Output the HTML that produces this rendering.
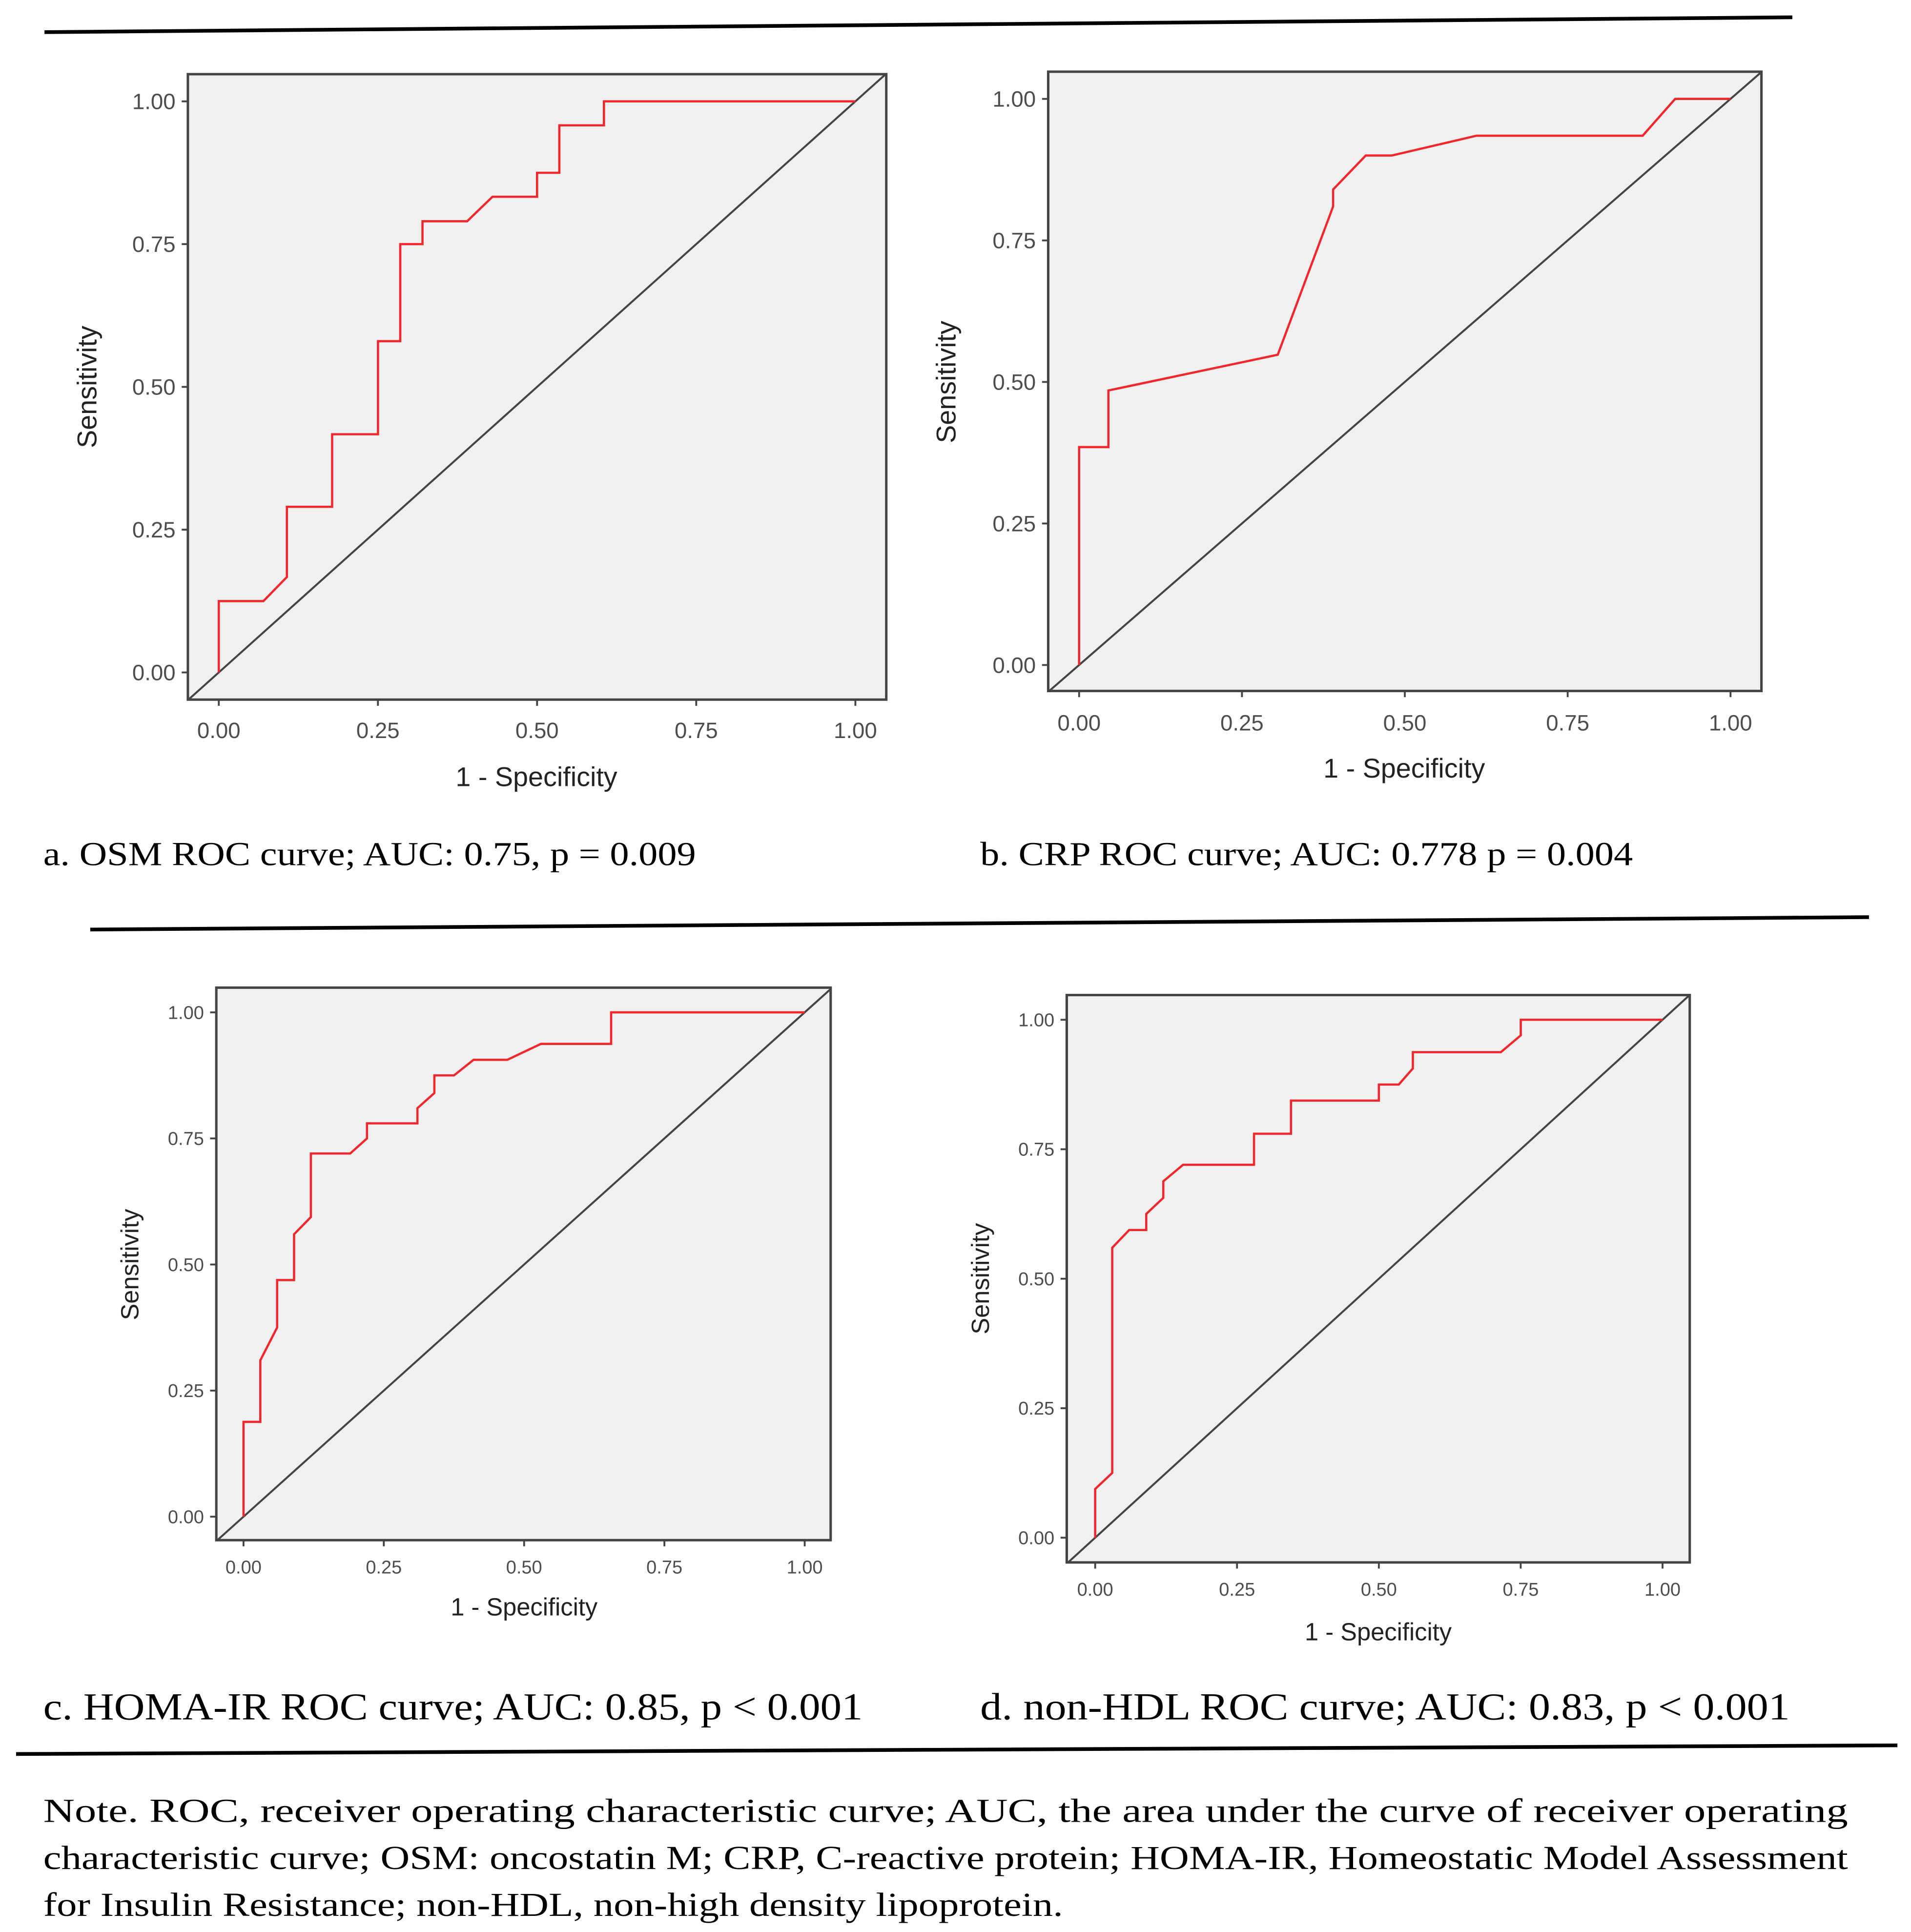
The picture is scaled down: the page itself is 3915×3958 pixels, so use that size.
<!DOCTYPE html>
<html><head><meta charset="utf-8"><style>
html,body{margin:0;padding:0;background:#fff;}
svg{display:block;}
.tk{font-family:"Liberation Sans",sans-serif;fill:#4d4d4d;}
.ti{font-family:"Liberation Sans",sans-serif;fill:#222;}
.cap{font-family:"Liberation Serif",serif;fill:#000;}
</style></head><body>
<svg id="fig" width="3915" height="3958" viewBox="0 0 1546 1563" preserveAspectRatio="none" xmlns="http://www.w3.org/2000/svg">
<line x1="36" y1="26" x2="1450" y2="14" stroke="#000" stroke-width="3"/>
<line x1="73" y1="752" x2="1512" y2="742" stroke="#000" stroke-width="3"/>
<line x1="13" y1="1419" x2="1535" y2="1412" stroke="#000" stroke-width="3"/>
<text class="cap" x="35" y="700" font-size="27" textLength="528" lengthAdjust="spacingAndGlyphs">a. OSM ROC curve; AUC: 0.75, p = 0.009</text>
<text class="cap" x="793" y="700" font-size="27" textLength="528" lengthAdjust="spacingAndGlyphs">b. CRP ROC curve; AUC: 0.778 p = 0.004</text>
<text class="cap" x="35" y="1391" font-size="31" textLength="663" lengthAdjust="spacingAndGlyphs">c. HOMA-IR ROC curve; AUC: 0.85, p &lt; 0.001</text>
<text class="cap" x="793" y="1391" font-size="31" textLength="655" lengthAdjust="spacingAndGlyphs">d. non-HDL ROC curve; AUC: 0.83, p &lt; 0.001</text>
<text class="cap" font-size="27">
<tspan x="35" y="1474" textLength="1460" lengthAdjust="spacingAndGlyphs">Note. ROC, receiver operating characteristic curve; AUC, the area under the curve of receiver operating</tspan>
<tspan x="35" y="1512" textLength="1460" lengthAdjust="spacingAndGlyphs">characteristic curve; OSM: oncostatin M; CRP, C-reactive protein; HOMA-IR, Homeostatic Model Assessment</tspan>
<tspan x="35" y="1550" textLength="825" lengthAdjust="spacingAndGlyphs">for Insulin Resistance; non-HDL, non-high density lipoprotein.</tspan>
</text>
</svg>
<script>
const tickLabels=["0.00","0.25","0.50","0.75","1.00"];
const tickValues=[0,0.25,0.5,0.75,1];
const fprA=[0,0,0.07,0.107,0.107,0.178,0.178,0.25,0.25,0.285,0.285,0.32,0.32,0.39,0.43,0.5,0.5,0.535,0.535,0.605,0.605,1];
const tprA=[0,0.125,0.125,0.167,0.29,0.29,0.417,0.417,0.58,0.58,0.75,0.75,0.79,0.79,0.833,0.833,0.875,0.875,0.958,0.958,1,1];
const fprB=[0,0,0.045,0.045,0.305,0.39,0.39,0.44,0.48,0.61,0.865,0.915,1];
const tprB=[0,0.385,0.385,0.485,0.548,0.81,0.84,0.9,0.9,0.935,0.935,1,1];
const fprC=[0,0,0.03,0.03,0.06,0.06,0.09,0.09,0.12,0.12,0.19,0.22,0.22,0.31,0.31,0.34,0.34,0.375,0.41,0.47,0.53,0.655,0.655,1];
const tprC=[0,0.188,0.188,0.31,0.375,0.469,0.469,0.56,0.594,0.72,0.72,0.75,0.78,0.78,0.81,0.84,0.875,0.875,0.906,0.906,0.9375,0.9375,1,1];
const fprD=[0,0,0.03,0.03,0.06,0.09,0.09,0.12,0.12,0.155,0.28,0.28,0.345,0.345,0.5,0.5,0.535,0.56,0.56,0.715,0.75,0.75,1];
const tprD=[0,0.094,0.125,0.56,0.594,0.594,0.625,0.656,0.688,0.72,0.72,0.78,0.78,0.844,0.844,0.875,0.875,0.906,0.9375,0.9375,0.97,1,1];

const NS="http://www.w3.org/2000/svg";
const svg=document.getElementById('fig');
function mk(tag,attrs,parent){const e=document.createElementNS(NS,tag);for(const k in attrs)e.setAttribute(k,attrs[k]);(parent||svg).appendChild(e);return e;}

const panels=[
 {id:'a',box:[152,60,717,566],x0:177,x1:692,y0:544,y1:82,fs:18,tly:597,tit:[434,636,22],sx:78,fpr:fprA,tpr:tprA},
 {id:'b',box:[848,58,1425,559],x0:873,x1:1400,y0:538,y1:80,fs:18,tly:591,tit:[1136,629,22],sx:773,fpr:fprB,tpr:tprB},
 {id:'c',box:[175,799,672,1246],x0:197,x1:651,y0:1227,y1:819,fs:15,tly:1273,tit:[424,1307,20],sx:112,fpr:fprC,tpr:tprC},
 {id:'d',box:[863,805,1367,1264],x0:886,x1:1345,y0:1244,y1:825,fs:15,tly:1291,tit:[1115,1327,20],sx:800,fpr:fprD,tpr:tprD}
];
panels.forEach(p=>{
 const g=mk('g',{});
 
 
 const xs=v=>p.x0+(p.x1-p.x0)*v, ys=v=>p.y0+(p.y1-p.y0)*v;
 const [L,T,R,B]=p.box;
 const bg=mk('rect',{x:L,y:T,width:R-L,height:B-T,fill:'#f0f0f0',stroke:'#444','stroke-width':2},g);
 
 
 const vL=(L-p.x0)/(p.x1-p.x0), vR=(R-p.x0)/(p.x1-p.x0);
 const vB=(B-p.y0)/(p.y1-p.y0), vT=(T-p.y0)/(p.y1-p.y0);
 const a=Math.max(vL,vB), b=Math.min(vR,vT);
 const d=mk('line',{x1:xs(a),y1:ys(a),x2:xs(b),y2:ys(b),stroke:'#444','stroke-width':1.6},g);
 
 
 const pts=p.fpr.map((f,i)=>xs(f).toFixed(1)+','+ys(p.tpr[i]).toFixed(1)).join(' ');
 const c=mk('polyline',{points:pts,fill:'none',stroke:'#f0282d','stroke-width':1.8},g);
 
 
 tickValues.forEach((v,i)=>{
  mk('line',{x1:xs(v),y1:B,x2:xs(v),y2:B+5,stroke:'#444','stroke-width':1.5},g);
  const tx=mk('text',{x:xs(v),y:p.tly,'font-size':p.fs,'text-anchor':'middle',class:'tk'},g);
  tx.textContent=tickLabels[i];
  
  
  mk('line',{x1:L-5,y1:ys(v),x2:L,y2:ys(v),stroke:'#444','stroke-width':1.5},g);
  const ty=mk('text',{x:L-10,y:ys(v)+p.fs*0.35,'font-size':p.fs,'text-anchor':'end',class:'tk'},g);
  ty.textContent=tickLabels[i];
  
  
 });
 const xt=mk('text',{x:p.tit[0],y:p.tit[1],'font-size':p.tit[2],'text-anchor':'middle',class:'ti'},g);
 xt.textContent='1 - Specificity';
 
 
 const yt=mk('text',{x:p.sx,y:(p.y0+p.y1)/2,'font-size':p.tit[2],'text-anchor':'middle',class:'ti',transform:'rotate(-90 '+p.sx+' '+((p.y0+p.y1)/2)+')'},g);
 yt.textContent='Sensitivity';
 
 
});
</script>
</body></html>
